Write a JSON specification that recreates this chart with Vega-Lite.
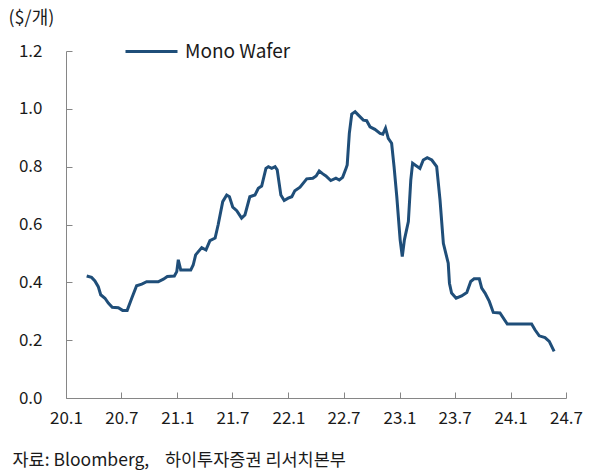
{
  "$schema": "https://vega.github.io/schema/vega-lite/v6.json",
  "width": 500,
  "height": 347,
  "autosize": "none",
  "padding": {"left": 66, "top": 51, "right": 27, "bottom": 76},
  "background": "white",
  "config": {
    "font": "Noto Sans CJK KR",
    "view": {"stroke": null},
    "axis": {"grid": false, "domainColor": "#868686", "tickColor": "#868686", "domainWidth": 1, "tickWidth": 1, "labelColor": "#1a1a1a", "labelFontSize": 17, "labelFont": "Noto Sans CJK KR", "titleFont": "Noto Sans CJK KR", "titleFontWeight": "normal", "titleColor": "#1a1a1a", "titleFontSize": 17}
  },
  "data": {
    "values": [
      {"date": "2020-03-09", "price": 0.422},
      {"date": "2020-03-25", "price": 0.417},
      {"date": "2020-04-05", "price": 0.405},
      {"date": "2020-04-16", "price": 0.385},
      {"date": "2020-04-24", "price": 0.357},
      {"date": "2020-05-08", "price": 0.345},
      {"date": "2020-05-19", "price": 0.328},
      {"date": "2020-06-01", "price": 0.314},
      {"date": "2020-06-21", "price": 0.312},
      {"date": "2020-07-05", "price": 0.303},
      {"date": "2020-07-20", "price": 0.303},
      {"date": "2020-08-04", "price": 0.345},
      {"date": "2020-08-20", "price": 0.388},
      {"date": "2020-09-06", "price": 0.394},
      {"date": "2020-09-22", "price": 0.402},
      {"date": "2020-10-30", "price": 0.402},
      {"date": "2020-11-16", "price": 0.411},
      {"date": "2020-11-29", "price": 0.420},
      {"date": "2020-12-22", "price": 0.422},
      {"date": "2020-12-30", "price": 0.437},
      {"date": "2021-01-04", "price": 0.478},
      {"date": "2021-01-12", "price": 0.443},
      {"date": "2021-02-14", "price": 0.443},
      {"date": "2021-02-22", "price": 0.460},
      {"date": "2021-03-02", "price": 0.495},
      {"date": "2021-03-22", "price": 0.520},
      {"date": "2021-04-05", "price": 0.512},
      {"date": "2021-04-18", "price": 0.544},
      {"date": "2021-05-05", "price": 0.553},
      {"date": "2021-05-15", "price": 0.599},
      {"date": "2021-05-30", "price": 0.679},
      {"date": "2021-06-12", "price": 0.702},
      {"date": "2021-06-21", "price": 0.696},
      {"date": "2021-07-02", "price": 0.660},
      {"date": "2021-07-15", "price": 0.648},
      {"date": "2021-07-31", "price": 0.622},
      {"date": "2021-08-11", "price": 0.633},
      {"date": "2021-08-27", "price": 0.696},
      {"date": "2021-09-13", "price": 0.702},
      {"date": "2021-09-24", "price": 0.725},
      {"date": "2021-10-05", "price": 0.733},
      {"date": "2021-10-19", "price": 0.794},
      {"date": "2021-10-27", "price": 0.800},
      {"date": "2021-11-07", "price": 0.794},
      {"date": "2021-11-18", "price": 0.800},
      {"date": "2021-11-25", "price": 0.789},
      {"date": "2021-12-07", "price": 0.702},
      {"date": "2021-12-18", "price": 0.683},
      {"date": "2021-12-31", "price": 0.691},
      {"date": "2022-01-12", "price": 0.696},
      {"date": "2022-01-22", "price": 0.717},
      {"date": "2022-02-08", "price": 0.729},
      {"date": "2022-03-02", "price": 0.758},
      {"date": "2022-03-22", "price": 0.760},
      {"date": "2022-04-02", "price": 0.768},
      {"date": "2022-04-12", "price": 0.785},
      {"date": "2022-04-24", "price": 0.775},
      {"date": "2022-05-04", "price": 0.768},
      {"date": "2022-05-20", "price": 0.752},
      {"date": "2022-06-06", "price": 0.760},
      {"date": "2022-06-17", "price": 0.754},
      {"date": "2022-06-28", "price": 0.763},
      {"date": "2022-07-09", "price": 0.794},
      {"date": "2022-07-13", "price": 0.806},
      {"date": "2022-07-20", "price": 0.915},
      {"date": "2022-07-28", "price": 0.982},
      {"date": "2022-08-08", "price": 0.990},
      {"date": "2022-08-18", "price": 0.979},
      {"date": "2022-09-04", "price": 0.961},
      {"date": "2022-09-15", "price": 0.959},
      {"date": "2022-09-26", "price": 0.938},
      {"date": "2022-10-12", "price": 0.929},
      {"date": "2022-10-29", "price": 0.915},
      {"date": "2022-11-07", "price": 0.912},
      {"date": "2022-11-16", "price": 0.933},
      {"date": "2022-11-25", "price": 0.898},
      {"date": "2022-12-06", "price": 0.881},
      {"date": "2022-12-14", "price": 0.800},
      {"date": "2022-12-23", "price": 0.696},
      {"date": "2023-01-03", "price": 0.547},
      {"date": "2023-01-10", "price": 0.489},
      {"date": "2023-01-17", "price": 0.547},
      {"date": "2023-01-30", "price": 0.610},
      {"date": "2023-02-07", "price": 0.754},
      {"date": "2023-02-13", "price": 0.812},
      {"date": "2023-03-09", "price": 0.794},
      {"date": "2023-03-20", "price": 0.823},
      {"date": "2023-04-02", "price": 0.831},
      {"date": "2023-04-17", "price": 0.823},
      {"date": "2023-05-03", "price": 0.800},
      {"date": "2023-05-14", "price": 0.685},
      {"date": "2023-05-25", "price": 0.535},
      {"date": "2023-06-10", "price": 0.466},
      {"date": "2023-06-14", "price": 0.397},
      {"date": "2023-06-21", "price": 0.363},
      {"date": "2023-07-06", "price": 0.345},
      {"date": "2023-07-24", "price": 0.353},
      {"date": "2023-08-10", "price": 0.365},
      {"date": "2023-08-23", "price": 0.403},
      {"date": "2023-09-03", "price": 0.412},
      {"date": "2023-09-20", "price": 0.412},
      {"date": "2023-09-28", "price": 0.380},
      {"date": "2023-10-09", "price": 0.363},
      {"date": "2023-10-23", "price": 0.334},
      {"date": "2023-11-05", "price": 0.296},
      {"date": "2023-11-27", "price": 0.294},
      {"date": "2023-12-21", "price": 0.256},
      {"date": "2024-03-10", "price": 0.256},
      {"date": "2024-03-21", "price": 0.236},
      {"date": "2024-04-04", "price": 0.215},
      {"date": "2024-04-23", "price": 0.209},
      {"date": "2024-05-07", "price": 0.196},
      {"date": "2024-05-23", "price": 0.161}
    ]
  },
  "mark": {"type": "line", "strokeWidth": 3, "interpolate": "linear"},
  "encoding": {
    "x": {
      "field": "date",
      "type": "temporal",
      "scale": {"domain": [{"year": 2020, "month": 1, "date": 1}, {"year": 2024, "month": 7, "date": 1}]},
      "axis": {
        "values": [
          {"year": 2020, "month": 1, "date": 1}, {"year": 2020, "month": 7, "date": 1},
          {"year": 2021, "month": 1, "date": 1}, {"year": 2021, "month": 7, "date": 1},
          {"year": 2022, "month": 1, "date": 1}, {"year": 2022, "month": 7, "date": 1},
          {"year": 2023, "month": 1, "date": 1}, {"year": 2023, "month": 7, "date": 1},
          {"year": 2024, "month": 1, "date": 1}, {"year": 2024, "month": 7, "date": 1}
        ],
        "format": "%y.%-m",
        "tickSize": -6,
        "labelPadding": 18,
        "labelFlush": false,
        "labelOverlap": false,
        "title": "자료: Bloomberg,\u00a0\u00a0\u00a0 하이투자증권 리서치본부",
        "titleFontSize": 17.5,
        "titleAnchor": "start",
        "titleAlign": "left",
        "titleBaseline": "middle",
        "titleX": -54,
        "titleY": 62
      }
    },
    "y": {
      "field": "price",
      "type": "quantitative",
      "scale": {"domain": [0, 1.2]},
      "axis": {
        "values": [0, 0.2, 0.4, 0.6, 0.8, 1.0, 1.2],
        "format": ".1f",
        "tickSize": -6,
        "labelPadding": 30,
        "title": "($/개)",
        "titleFontSize": 18,
        "titleAngle": 0,
        "titleAlign": "left",
        "titleBaseline": "middle",
        "titleX": -58,
        "titleY": -33
      }
    },
    "color": {
      "datum": "Mono Wafer",
      "type": "nominal",
      "scale": {"range": ["#1F4E79"]},
      "legend": {
        "title": null,
        "orient": "none",
        "legendX": 58,
        "legendY": -27,
        "padding": 0,
        "symbolType": "stroke",
        "symbolSize": 2704,
        "symbolStrokeWidth": 3,
        "labelFontSize": 19,
        "labelColor": "#1a1a1a",
        "labelFont": "Noto Sans CJK KR",
        "labelOffset": 6
      }
    }
  }
}
